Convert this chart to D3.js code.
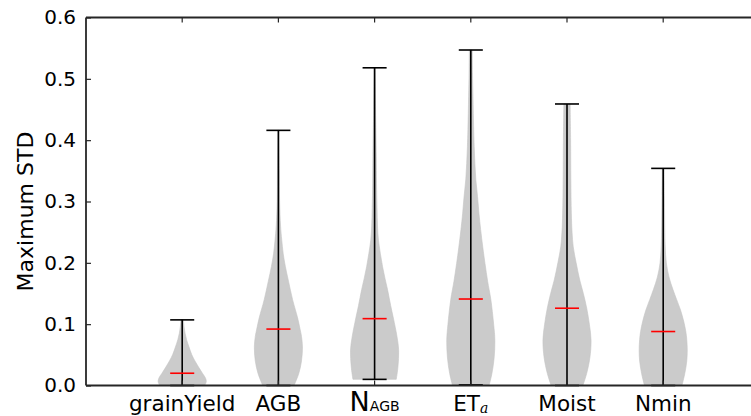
<!DOCTYPE html>
<html>
<head>
<meta charset="utf-8">
<script src="https://cdn.jsdelivr.net/npm/d3@7"></script>
<style>
  html, body { margin: 0; padding: 0; background: #fff; }
  svg { display: block; }
  text { font-family: "DejaVu Sans", sans-serif; fill: #000; }
</style>
</head>
<body>
<svg id="chart" width="751" height="416"></svg>
<script>
// Variables shown on the x axis
const categories = ["grainYield", "AGB", "NAGB", "ETa", "Moist", "Nmin"];
// Label parts: main text and subscript
const labelMain = ["grainYield", "AGB", "N", "ET", "Moist", "Nmin"];
const labelSub  = ["", "", "AGB", "a", "", ""];

// Summary statistics per variable
const minValues    = [0.000, 0.000, 0.010, 0.001, 0.000, 0.000];
const maxValues    = [0.107, 0.416, 0.518, 0.547, 0.459, 0.354];
const medianValues = [0.020, 0.092, 0.109, 0.141, 0.126, 0.088];

// Density profiles: [value, relative half-width]
const densityGrainYield = [[0.000,0.93],[0.006,1.00],[0.012,0.97],[0.020,0.84],[0.030,0.68],[0.040,0.53],[0.050,0.40],[0.063,0.28],[0.075,0.18],[0.085,0.12],[0.095,0.08],[0.107,0.05]];
const densityAGB = [[0.000,0.65],[0.020,0.85],[0.040,0.96],[0.063,1.00],[0.080,0.96],[0.092,0.90],[0.110,0.80],[0.140,0.59],[0.170,0.42],[0.194,0.29],[0.215,0.20],[0.237,0.14],[0.260,0.09],[0.300,0.05],[0.350,0.04],[0.416,0.02]];
const densityNAGB = [[0.010,0.90],[0.030,0.97],[0.058,1.00],[0.080,0.93],[0.110,0.78],[0.130,0.67],[0.156,0.54],[0.175,0.43],[0.194,0.33],[0.215,0.24],[0.237,0.16],[0.260,0.12],[0.290,0.10],[0.330,0.08],[0.373,0.07],[0.450,0.04],[0.518,0.02]];
const densityETa = [[0.000,0.76],[0.020,0.88],[0.045,0.97],[0.074,1.00],[0.100,0.95],[0.141,0.83],[0.170,0.70],[0.199,0.59],[0.225,0.50],[0.254,0.41],[0.280,0.34],[0.308,0.28],[0.335,0.21],[0.362,0.17],[0.390,0.14],[0.417,0.12],[0.471,0.09],[0.510,0.07],[0.547,0.06]];
const densityMoist = [[0.000,0.66],[0.020,0.82],[0.045,0.95],[0.074,1.00],[0.100,0.93],[0.126,0.82],[0.150,0.68],[0.172,0.53],[0.200,0.38],[0.226,0.26],[0.250,0.21],[0.281,0.18],[0.335,0.16],[0.400,0.15],[0.459,0.13]];
const densityNmin = [[0.000,0.78],[0.020,0.90],[0.040,0.98],[0.058,1.00],[0.075,0.98],[0.088,0.94],[0.105,0.85],[0.123,0.72],[0.140,0.56],[0.156,0.41],[0.177,0.24],[0.200,0.13],[0.230,0.08],[0.270,0.06],[0.310,0.05],[0.354,0.04]];
const densities = [densityGrainYield, densityAGB, densityNAGB, densityETa, densityMoist, densityNmin];

// Y axis ticks
const yTicks = [0.0, 0.1, 0.2, 0.3, 0.4, 0.5, 0.6];

const svg = d3.select("#chart");
const plot = { left: 86, top: 17.5, bottom: 385.5 };
const unit = 96.2;

const x = d3.scaleLinear().domain([0, 7]).range([plot.left, plot.left + 7 * unit]);
const y = d3.scaleLinear().domain([0, 0.6]).range([plot.bottom, plot.top]);

const halfWidth = x(0.25) - x(0);   // violin max half-width (widths = 0.5)
const capHalf = x(0.125) - x(0);    // cap / median half-length

// Violin bodies
const g = svg.append("g");
densities.forEach((dens, i) => {
  const cx = x(i + 1);
  const area = d3.area()
    .curve(d3.curveCatmullRom.alpha(0.5))
    .y(d => y(d[0]))
    .x0(d => cx - halfWidth * d[1])
    .x1(d => cx + halfWidth * d[1]);
  g.append("path")
    .datum(dens)
    .attr("d", area)
    .attr("fill", "#cbcbcb")
    .attr("stroke", "#c4c4c4")
    .attr("stroke-width", 0.6);
});

// Range bars, caps and medians
categories.forEach((c, i) => {
  const cx = x(i + 1);
  g.append("line")
    .attr("x1", cx).attr("x2", cx)
    .attr("y1", y(minValues[i])).attr("y2", y(maxValues[i]))
    .attr("stroke", "#000").attr("stroke-width", 1.6);
  [maxValues[i], minValues[i]].forEach(v => {
    g.append("line")
      .attr("x1", cx - capHalf).attr("x2", cx + capHalf)
      .attr("y1", y(v)).attr("y2", y(v))
      .attr("stroke", "#000").attr("stroke-width", 1.6);
  });
  g.append("line")
    .attr("x1", cx - capHalf).attr("x2", cx + capHalf)
    .attr("y1", y(medianValues[i])).attr("y2", y(medianValues[i]))
    .attr("stroke", "#ff0000").attr("stroke-width", 1.6);
});

// Frame
const frame = svg.append("g").attr("stroke", "#262626").attr("stroke-width", 1.8).attr("fill", "none");
frame.append("line").attr("x1", plot.left).attr("x2", plot.left).attr("y1", plot.top).attr("y2", plot.bottom);
frame.append("line").attr("x1", plot.left).attr("x2", x(7)).attr("y1", plot.bottom).attr("y2", plot.bottom);
frame.append("line").attr("x1", plot.left).attr("x2", x(7)).attr("y1", plot.top).attr("y2", plot.top);
frame.append("line").attr("x1", x(7)).attr("x2", x(7)).attr("y1", plot.top).attr("y2", plot.bottom);

// Y axis (ticks point inward)
const yAxis = d3.axisLeft(y).tickValues(yTicks).tickFormat(d3.format(".1f"))
  .tickSizeInner(-5).tickSizeOuter(0).tickPadding(10);
const ya = svg.append("g").attr("transform", `translate(${plot.left},0)`).call(yAxis);
ya.select(".domain").remove();
ya.selectAll(".tick line").attr("stroke", "#262626").attr("stroke-width", 1.2);
ya.selectAll(".tick text").attr("font-size", 20).attr("font-family", "DejaVu Sans").attr("fill", "#000");

// Right-side ticks (mirror)
svg.append("g").selectAll("line").data(yTicks).join("line")
  .attr("x1", x(7)).attr("x2", x(7) - 5)
  .attr("y1", d => y(d)).attr("y2", d => y(d))
  .attr("stroke", "#262626").attr("stroke-width", 1.2);

// X ticks on top and bottom, pointing inward
const xPos = categories.map((c, i) => i + 1);
svg.append("g").selectAll("line").data(xPos).join("line")
  .attr("x1", d => x(d)).attr("x2", d => x(d))
  .attr("y1", plot.top).attr("y2", plot.top + 5)
  .attr("stroke", "#262626").attr("stroke-width", 1.2);
svg.append("g").selectAll("line").data(xPos).join("line")
  .attr("x1", d => x(d)).attr("x2", d => x(d))
  .attr("y1", plot.bottom).attr("y2", plot.bottom - 5)
  .attr("stroke", "#262626").attr("stroke-width", 1.2);

// X tick labels
const xl = svg.append("g");
categories.forEach((c, i) => {
  const t = xl.append("text")
    .attr("x", x(i + 1))
    .attr("y", 411)
    .attr("text-anchor", "middle")
    .attr("font-size", 21.5);
  if (c === "NAGB") {
    t.append("tspan").attr("font-size", 27).text(labelMain[i]);
    t.append("tspan").attr("font-size", 14).text(labelSub[i]);
  } else if (c === "ETa") {
    t.append("tspan").text(labelMain[i]);
    t.append("tspan")
      .attr("font-family", "DejaVu Serif")
      .attr("font-style", "italic")
      .attr("font-size", 14)
      .attr("dy", 2)
      .text(labelSub[i]);
  } else {
    t.text(labelMain[i]);
  }
});

// Y axis title
svg.append("text")
  .attr("transform", `translate(33, ${211.5}) rotate(-90)`)
  .attr("text-anchor", "middle")
  .attr("font-size", 22)
  .text("Maximum STD");
</script>
</body>
</html>
